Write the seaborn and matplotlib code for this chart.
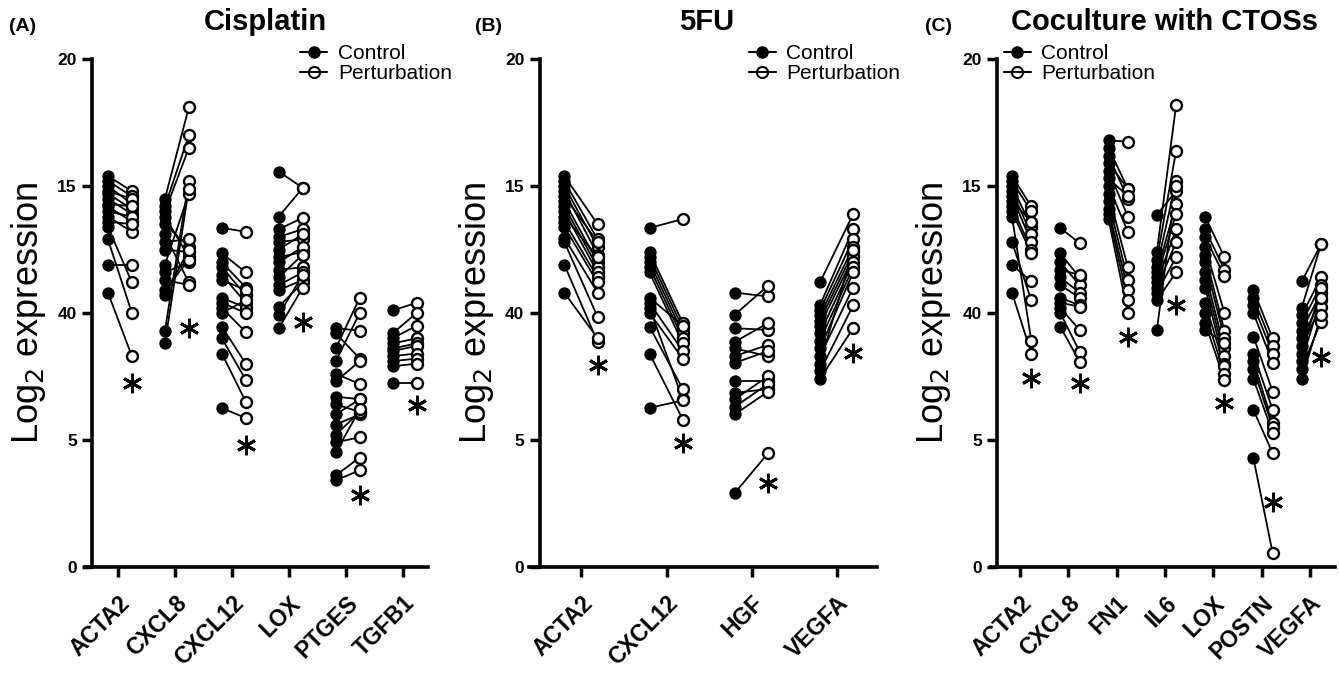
import numpy as np
import pandas as pd
import matplotlib
matplotlib.use('Agg')
import matplotlib.pyplot as plt
import seaborn as sns
from matplotlib.lines import Line2D
from matplotlib.transforms import ScaledTranslation

# ---- Panel A: Cisplatin ----
A_GENES = ['ACTA2', 'CXCL8', 'CXCL12', 'LOX', 'PTGES', 'TGFB1']
A_ACTA2_CTRL = [15.4, 15.2, 15.0, 14.8, 14.7, 14.5, 14.3, 14.2, 14.0, 13.8, 13.6, 13.4, 12.9, 11.9, 10.8]
A_ACTA2_PERT = [14.8, 14.6, 14.3, 14.5, 14.1, 13.9, 14.2, 13.6, 13.8, 13.2, 13.5, 11.2, 10.0, 11.9, 8.3]
A_CXCL8_CTRL = [14.5, 14.2, 14.0, 13.8, 13.5, 13.1, 12.8, 12.5, 11.9, 11.6, 11.3, 10.9, 10.7, 9.3, 8.8]
A_CXCL8_PERT = [18.1, 17.0, 16.5, 12.2, 12.6, 11.2, 12.9, 12.4, 14.7, 12.0, 11.1, 12.1, 12.5, 15.2, 14.9]
A_CXCL12_CTRL = [13.35, 12.35, 12.0, 11.8, 11.5, 11.3, 10.6, 10.4, 10.2, 10.0, 9.46, 9.0, 8.4, 6.25]
A_CXCL12_PERT = [13.2, 11.6, 11.0, 10.7, 10.4, 10.9, 10.2, 10.0, 9.25, 10.5, 8.0, 7.36, 6.5, 5.86]
A_LOX_CTRL = [15.57, 13.8, 13.3, 13.0, 12.8, 12.5, 12.2, 12.0, 11.7, 11.4, 11.1, 10.9, 10.25, 9.93, 9.4]
A_LOX_PERT = [14.93, 14.93, 13.75, 13.3, 12.9, 13.1, 12.4, 12.6, 11.8, 12.3, 11.6, 11.3, 11.2, 11.5, 11.0]
A_PTGES_CTRL = [9.4, 9.2, 8.6, 8.1, 7.6, 7.3, 6.7, 6.4, 6.0, 5.6, 5.2, 4.9, 4.5, 3.6, 3.4]
A_PTGES_PERT = [9.3, 8.2, 10.6, 10.0, 7.2, 8.1, 6.6, 6.1, 6.6, 6.0, 6.1, 5.1, 6.2, 4.3, 3.8]
A_TGFB1_CTRL = [10.1, 9.2, 9.0, 8.8, 8.6, 8.5, 8.3, 8.1, 7.9, 7.25]
A_TGFB1_PERT = [10.4, 10.0, 9.5, 9.0, 8.8, 8.7, 8.4, 8.2, 8.0, 7.25]
A_STARS = [7.25, 9.4, 4.8, 9.65, 2.83, 6.38]

# ---- Panel B: 5FU ----
B_GENES = ['ACTA2', 'CXCL12', 'HGF', 'VEGFA']
B_ACTA2_CTRL = [15.4, 15.2, 15.0, 14.8, 14.6, 14.4, 14.2, 14.0, 13.8, 13.6, 13.4, 12.96, 12.8, 11.9, 10.8]
B_ACTA2_PERT = [13.5, 12.9, 12.6, 12.3, 12.8, 12.0, 11.8, 11.6, 12.2, 11.4, 11.2, 10.8, 9.85, 8.86, 9.0]
B_CXCL12_CTRL = [13.35, 12.4, 12.2, 12.0, 11.8, 11.6, 10.6, 10.4, 10.2, 10.0, 9.46, 8.4, 6.26]
B_CXCL12_PERT = [13.7, 9.6, 9.4, 9.2, 9.0, 8.8, 9.5, 8.5, 6.6, 8.2, 7.0, 5.8, 6.55]
B_HGF_CTRL = [10.8, 9.93, 9.4, 8.86, 8.6, 8.3, 8.03, 7.3, 6.85, 6.6, 6.3, 6.0, 2.9]
B_HGF_PERT = [10.65, 11.07, 9.33, 9.6, 8.3, 8.74, 8.5, 7.3, 7.0, 7.5, 7.2, 6.9, 4.47]
B_VEGFA_CTRL = [11.2, 10.3, 10.1, 9.9, 9.7, 9.5, 9.2, 8.9, 8.6, 8.3, 8.0, 7.7, 7.4]
B_VEGFA_PERT = [13.9, 13.3, 12.9, 12.6, 12.4, 12.2, 12.0, 11.8, 11.6, 11.0, 12.5, 10.3, 9.4]
B_STARS = [7.95, 4.87, 3.3, 8.43]

# ---- Panel C: Coculture with CTOSs ----
C_GENES = ['ACTA2', 'CXCL8', 'FN1', 'IL6', 'LOX', 'POSTN', 'VEGFA']
C_ACTA2_CTRL = [15.4, 15.2, 15.0, 14.8, 14.6, 14.4, 14.2, 14.0, 13.8, 12.8, 11.9, 10.8]
C_ACTA2_PERT = [14.2, 14.0, 13.4, 13.1, 12.8, 13.6, 12.5, 12.35, 8.9, 10.5, 11.24, 8.4]
C_CXCL8_CTRL = [13.35, 12.35, 12.0, 11.7, 11.4, 11.1, 10.6, 10.4, 10.2, 10.0, 9.46]
C_CXCL8_PERT = [12.75, 11.4, 11.1, 11.5, 10.8, 10.6, 10.3, 10.25, 9.33, 8.48, 8.08]
C_FN1_CTRL = [16.8, 16.5, 16.2, 15.9, 15.6, 15.3, 15.0, 14.7, 14.4, 14.1, 13.9, 13.7]
C_FN1_PERT = [16.75, 14.9, 14.5, 14.9, 13.8, 14.6, 13.2, 11.8, 11.3, 10.9, 10.5, 10.0]
C_IL6_CTRL = [13.87, 12.4, 12.1, 11.8, 11.6, 11.4, 11.2, 11.0, 10.8, 10.5, 9.33]
C_IL6_PERT = [14.8, 18.2, 16.4, 15.2, 14.3, 13.9, 13.3, 12.8, 12.2, 11.6, 15.0]
C_LOX_CTRL = [13.8, 13.3, 13.0, 12.6, 12.3, 12.0, 11.6, 11.3, 11.0, 10.4, 10.0, 9.6, 9.33]
C_LOX_PERT = [12.2, 11.7, 11.45, 10.0, 9.3, 9.0, 8.6, 8.3, 8.0, 7.9, 7.6, 7.36, 8.8]
C_POSTN_CTRL = [10.9, 10.6, 10.3, 10.0, 9.07, 8.4, 8.1, 7.8, 7.4, 6.18, 4.28]
C_POSTN_PERT = [9.0, 8.7, 8.4, 8.03, 6.9, 6.18, 5.66, 5.5, 5.27, 4.47, 0.53]
C_VEGFA_CTRL = [11.24, 10.2, 9.9, 9.6, 9.3, 9.0, 8.7, 8.4, 8.1, 7.8, 7.4]
C_VEGFA_PERT = [12.7, 12.7, 11.4, 11.1, 10.8, 10.5, 10.25, 11.0, 10.6, 9.66, 9.9]
C_STARS = [7.44, 7.25, 9.06, 10.3, 6.44, 2.55, 8.28]

Y_TICKS = [0, 5, 10, 15, 20]
Y_TICK_LABELS = ['0', '5', '40', '15', '20']

sns.set_style('ticks')
plt.rcParams['font.family'] = ['Liberation Sans', 'DejaVu Sans']
for key in ['text.color', 'axes.labelcolor', 'xtick.color', 'ytick.color', 'axes.edgecolor']:
    plt.rcParams[key] = 'black'


def long_table(genes, ctrl, pert, off_c, off_p):
    rows = []
    for g in range(len(genes)):
        for k, (cv, pv) in enumerate(zip(ctrl[g], pert[g])):
            rows.append((genes[g], g + off_c, f'{g}-{k}', 'Control', cv))
            rows.append((genes[g], g + off_p, f'{g}-{k}', 'Perturbation', pv))
    return pd.DataFrame(rows, columns=['gene', 'x', 'pair', 'cond', 'value'])


panels = [
    dict(tag='(A)', title='Cisplatin', genes=A_GENES,
         ctrl=[A_ACTA2_CTRL, A_CXCL8_CTRL, A_CXCL12_CTRL, A_LOX_CTRL, A_PTGES_CTRL, A_TGFB1_CTRL],
         pert=[A_ACTA2_PERT, A_CXCL8_PERT, A_CXCL12_PERT, A_LOX_PERT, A_PTGES_PERT, A_TGFB1_PERT],
         stars=A_STARS, rect=[0.0687, 0.158, 0.251, 0.754], xlim=(-0.46, 5.44),
         off=(-0.18, 0.24), leg=(0.62, 1.03), tx=0.198, lx=0.017),
    dict(tag='(B)', title='5FU', genes=B_GENES,
         ctrl=[B_ACTA2_CTRL, B_CXCL12_CTRL, B_HGF_CTRL, B_VEGFA_CTRL],
         pert=[B_ACTA2_PERT, B_CXCL12_PERT, B_HGF_PERT, B_VEGFA_PERT],
         stars=B_STARS, rect=[0.403, 0.158, 0.252, 0.754], xlim=(-0.49, 3.47),
         off=(-0.2, 0.19), leg=(0.62, 1.03), tx=0.528, lx=0.365),
    dict(tag='(C)', title='Coculture with CTOSs', genes=C_GENES,
         ctrl=[C_ACTA2_CTRL, C_CXCL8_CTRL, C_FN1_CTRL, C_IL6_CTRL, C_LOX_CTRL, C_POSTN_CTRL, C_VEGFA_CTRL],
         pert=[C_ACTA2_PERT, C_CXCL8_PERT, C_FN1_PERT, C_IL6_PERT, C_LOX_PERT, C_POSTN_PERT, C_VEGFA_PERT],
         stars=C_STARS, rect=[0.7446, 0.158, 0.2524, 0.754], xlim=(-0.48, 6.52),
         off=(-0.17, 0.23), leg=(0.02, 1.03), tx=0.870, lx=0.701),
]

fig = plt.figure(figsize=(13.39, 6.73), dpi=100)

for p in panels:
    ax = fig.add_axes(p['rect'])
    df = long_table(p['genes'], p['ctrl'], p['pert'], *p['off'])

    # paired lines, then the dots on top
    sns.lineplot(data=df, x='x', y='value', units='pair', estimator=None,
                 color='black', lw=1.3, ax=ax, zorder=2)
    sns.scatterplot(data=df[df.cond == 'Control'], x='x', y='value',
                    color='black', edgecolor='black', s=62, linewidth=1, ax=ax, zorder=3)
    sns.scatterplot(data=df[df.cond == 'Perturbation'], x='x', y='value',
                    color='white', edgecolor='black', s=62, linewidth=1.7, ax=ax, zorder=4)

    # significance asterisks under the perturbation columns
    sx = np.arange(len(p['genes'])) + p['off'][1]
    ax.plot(sx, p['stars'], ls='none', marker=(6, 2, 0), ms=14, mew=2.1, color='black')

    ax.set_xlim(*p['xlim'])
    ax.set_ylim(0, 20)
    ax.set_xticks(range(len(p['genes'])))
    ax.set_xticklabels(p['genes'], rotation=45, ha='right', va='top',
                       rotation_mode='anchor', fontsize=16.5, fontweight='bold')
    for lab in ax.get_xticklabels():
        lab.set_transform(lab.get_transform() + ScaledTranslation(0.03, 0, fig.dpi_scale_trans))
    ax.set_yticks(Y_TICKS)
    ax.set_yticklabels(Y_TICK_LABELS, fontsize=12.5, fontweight='bold')
    ax.tick_params(axis='x', width=2.5, length=7, pad=11)
    ax.tick_params(axis='y', width=2.5, length=7, pad=4)
    ax.set_xlabel('')
    ax.set_ylabel('Log$_2$ expression', fontsize=26)
    ax.yaxis.set_label_coords(-0.13, 0.5)

    sns.despine(ax=ax)
    for side in ['left', 'bottom']:
        ax.spines[side].set_linewidth(2.6)
    ax.spines['bottom'].set_bounds(p['xlim'][0] - 0.13, p['xlim'][1])

    handles = [Line2D([], [], color='black', lw=1.5, marker='o', ms=8, markerfacecolor='black'),
               Line2D([], [], color='black', lw=1.5, marker='o', ms=8, markerfacecolor='none', mew=1.5)]
    ax.legend(handles, ['Control', 'Perturbation'], loc='upper left', bbox_to_anchor=p['leg'],
              frameon=False, fontsize=15, handlelength=1.3, handletextpad=0.5,
              labelspacing=0.05, borderaxespad=0, borderpad=0)

    fig.text(p['tx'], 0.967, p['title'], ha='center', va='center', fontsize=21, fontweight='bold')
    fig.text(p['lx'], 0.96, p['tag'], ha='center', va='center', fontsize=14, fontweight='bold')

fig.savefig('out.png', dpi=100)
